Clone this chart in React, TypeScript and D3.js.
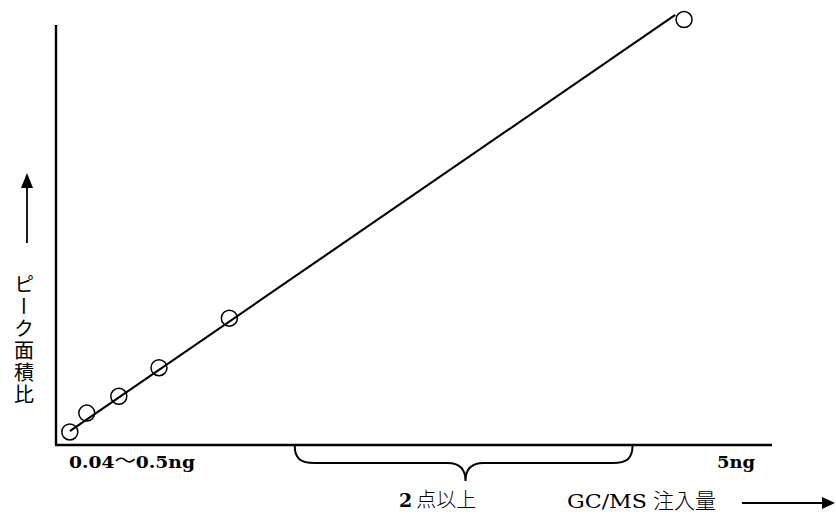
import React from "react";
import * as d3 from "d3";

// Data (amount injected in ng, peak area ratio in arbitrary units)
const amounts = [0.11, 0.245, 0.5, 0.82, 1.38, 5.0];
const areaRatios = [3.1, 7.6, 11.6, 18.4, 30.2, 101.3];
// regression line end points
const fitX = [0.11, 4.93];
const fitY = [3.3, 102.4];
// brace range (ng)
const braceRange = [1.9, 3.26, 4.59];

const xLabelLowA = "0.04";
const xLabelLowDash = "〜";
const xLabelLowB = "0.5ng";
const xLabelHigh = "5ng";
const braceLabelNum = "2";
const braceLabelText = "点以上";
const xTitleLatin = "GC/MS";
const xTitleJa = "注入量";
const yTitle = "ピーク面積比";

const W = 836;
const H = 516;

export default function App() {
  const x = d3.scaleLinear().domain([0, 5.7]).range([56, 772]);
  const y = d3.scaleLinear().domain([0, 100]).range([445, 25]);
  const [x0, y0] = [x.range()[0], y.range()[0]];
  const serif = "'DejaVu Serif', 'Liberation Serif', serif";
  const cjk = "'Noto Sans CJK JP', sans-serif";

  const line = d3
    .line<number>()
    .x((d, i) => x(fitX[i]))
    .y((d, i) => y(fitY[i]));

  const bL = x(braceRange[0]);
  const bT = x(braceRange[1]);
  const bR = x(braceRange[2]);
  const top = y0;
  const mid = y0 + 18;
  const tip = y0 + 36;
  const bp = d3.path();
  bp.moveTo(bL, top);
  bp.bezierCurveTo(bL, mid - 4, bL + 6, mid, bL + 20, mid);
  bp.lineTo(bT - 18, mid);
  bp.bezierCurveTo(bT - 6, mid, bT, mid + 6, bT, tip);
  bp.bezierCurveTo(bT, mid + 6, bT + 6, mid, bT + 18, mid);
  bp.lineTo(bR - 20, mid);
  bp.bezierCurveTo(bR - 6, mid, bR, mid - 4, bR, top);

  return (
    <div style={{ position: "absolute", left: 0, top: 0 }}>
      <svg width={W} height={H} viewBox={`0 0 ${W} ${H}`} style={{ display: "block", background: "#fff" }}>
        {/* axes */}
        <line x1={x0} y1={y.range()[1]} x2={x0} y2={y0} stroke="#000" strokeWidth={2.4} />
        <line x1={x0 - 1} y1={y0} x2={x.range()[1]} y2={y0} stroke="#000" strokeWidth={2.4} />

        {/* regression line */}
        <path d={line(fitX) || ""} fill="none" stroke="#000" strokeWidth={2.1} />

        {/* points */}
        {amounts.map((a, i) => (
          <circle key={i} cx={x(a)} cy={y(areaRatios[i])} r={8} fill="none" stroke="#000" strokeWidth={1.5} />
        ))}

        {/* brace */}
        <path d={bp.toString()} fill="none" stroke="#000" strokeWidth={2} />

        {/* x labels */}
        <text x={69} y={468} fontFamily={serif} fontWeight="bold" fontSize={17.5} textLength={126} lengthAdjust="spacingAndGlyphs">
          <tspan>{xLabelLowA}</tspan>
          <tspan fontFamily={cjk} fontWeight="normal" fontSize={20}>{xLabelLowDash}</tspan>
          <tspan>{xLabelLowB}</tspan>
        </text>
        <text x={717} y={468} fontFamily={serif} fontWeight="bold" fontSize={17.5} textLength={38} lengthAdjust="spacingAndGlyphs">
          {xLabelHigh}
        </text>

        {/* brace label */}
        <text x={399} y={507} fontSize={19}>
          <tspan fontFamily={serif} fontWeight="bold">{braceLabelNum}</tspan>
          <tspan fontFamily={cjk} fontWeight={300} dx={4} fontSize={20}>{braceLabelText}</tspan>
        </text>

        {/* x title */}
        <text x={567} y={508} fontSize={18}>
          <tspan fontFamily={serif} textLength={80} lengthAdjust="spacingAndGlyphs">{xTitleLatin}</tspan>
          <tspan fontFamily={cjk} fontWeight={300} dx={6} fontSize={21}>{xTitleJa}</tspan>
        </text>
        <line x1={742} y1={503} x2={824} y2={503} stroke="#000" strokeWidth={1.8} />
        <path d="M822,497 L835,503 L822,509 Z" fill="#000" />

        {/* y title */}
        <text
          x={24}
          y={274}
          fontFamily={cjk}
          fontSize={20}
          letterSpacing={2}
          style={{ writingMode: "vertical-rl" } as any}
        >
          {yTitle}
        </text>
        <line x1={27} y1={243} x2={27} y2={186} stroke="#000" strokeWidth={1.8} />
        <path d="M21,188 L27,173 L33,188 Z" fill="#000" />
      </svg>
    </div>
  );
}
